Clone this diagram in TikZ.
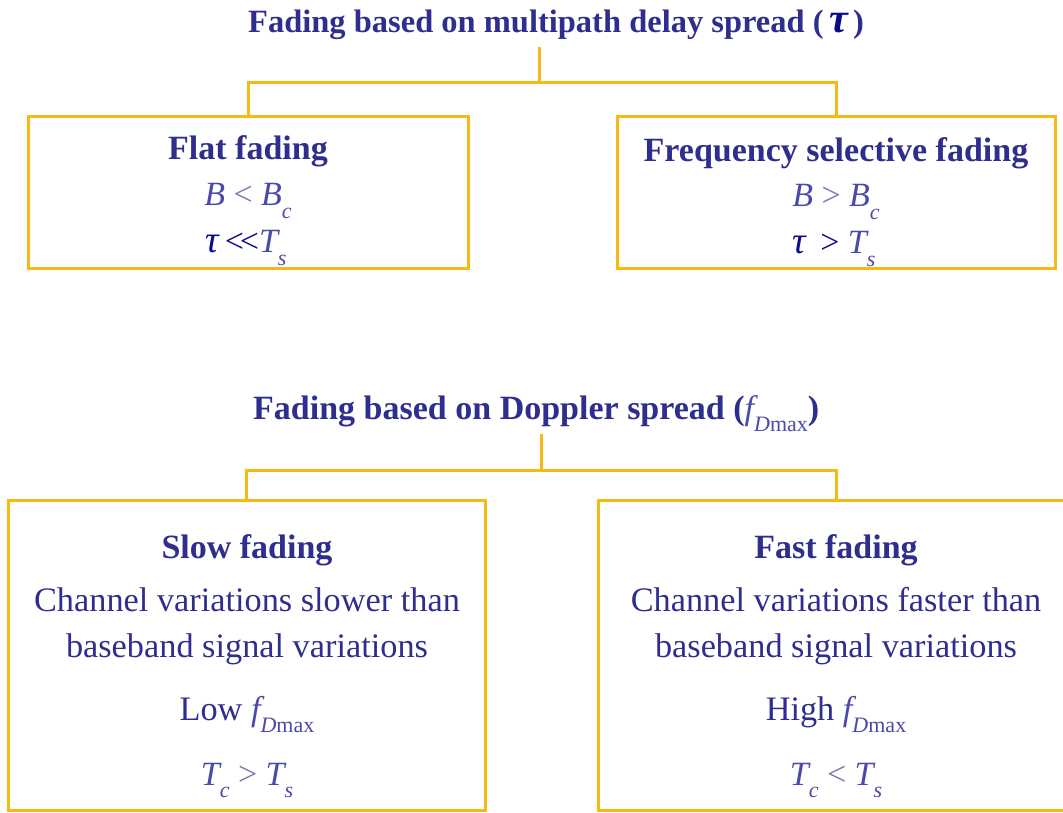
\documentclass[tikz,border=0pt]{standalone}
\usepackage{fontspec}
\setmainfont{Liberation Serif}
\definecolor{navy}{HTML}{2E2E8F}
\definecolor{mathblue}{HTML}{4A4AAA}
\definecolor{relgray}{HTML}{7A7AB0}
\definecolor{taublue}{HTML}{0A0A8C}
\definecolor{gold}{HTML}{F9B915}
\newcommand\mysub[1]{\raisebox{-0.36em}{\fontsize{22}{22}\selectfont #1}}
\newcommand\mytau{{\color{taublue}\itshape τ}}
\newcommand\fdmax{{\itshape f}\mysub{{\itshape D}max}}
\tikzset{
  conn/.style={draw=gold, line width=3pt},
  box/.style={draw=gold, line width=3pt, inner sep=0pt, outer sep=0pt},
  headtxt/.style={font=\fontsize{34}{38}\selectfont\bfseries, text=navy, inner sep=0pt, anchor=base},
  bodytxt/.style={font=\fontsize{34.3}{38}\selectfont, text=navy, inner sep=0pt, anchor=base},
  mathtxt/.style={font=\fontsize{34}{38}\selectfont\itshape, text=mathblue, inner sep=0pt, anchor=base},
}
\begin{document}
\begin{tikzpicture}[x=1pt,y=-1pt]
\useasboundingbox (0,0) rectangle (1063,813);
% ---------- top group ----------
\node[headtxt, anchor=base west, font=\fontsize{32.5}{36}\selectfont\bfseries] (t1) at (248,33) {Fading based on multipath delay spread (\,{\fontsize{42}{42}\selectfont\mytau}\,)};
\node[box, minimum width=440pt, minimum height=151pt] (flat) at (248,192.5) {};
\node[box, minimum width=438pt, minimum height=151pt] (fsel) at (836,192.5) {};
\node[headtxt] (flatT) at (248,160) {Flat fading};
\node[mathtxt] (flatA) at (248,206) {B {\upshape\color{relgray}<} B\mysub{c}};
\node[mathtxt] (flatB) at (246,253) {{\fontsize{38}{38}\selectfont\mytau}\,{\upshape\color{taublue}<\kern-0.12em<}T\mysub{s}};
\node[headtxt] (fselT) at (836,162) {Frequency selective fading};
\node[mathtxt] (fselA) at (836,207) {B {\upshape\color{relgray}>} B\mysub{c}};
\node[mathtxt] (fselB) at (834,254) {{\fontsize{38}{38}\selectfont\mytau}\ \,{\upshape\color{taublue}>} T\mysub{s}};
\coordinate (s1) at (539,47);
\coordinate (j1) at (539,83);
\draw[conn] (s1) -- (j1);
\draw[conn] (flat.north) |- (j1) -| (fsel.north);
% ---------- bottom group ----------
\node[headtxt, anchor=base west] (t2) at (253,419) {Fading based on Doppler spread ({\mdseries\color{mathblue}\fdmax})};
\node[box, minimum width=477pt, minimum height=310pt] (slow) at (246.5,655) {};
\node[box, minimum width=477pt, minimum height=310pt] (fast) at (836.5,655) {};
\node[headtxt] (slowT) at (247,558) {Slow fading};
\node[bodytxt] (slowA) at (247,611) {Channel variations slower than};
\node[bodytxt] (slowB) at (247,657) {baseband signal variations};
\node[bodytxt] (slowC) at (247,720) {Low {\color{mathblue}\fdmax}};
\node[mathtxt] (slowD) at (247,785) {T\mysub{c} {\upshape\color{relgray}>} T\mysub{s}};
\node[headtxt] (fastT) at (836,558) {Fast fading};
\node[bodytxt] (fastA) at (836,611) {Channel variations faster than};
\node[bodytxt] (fastB) at (836,657) {baseband signal variations};
\node[bodytxt] (fastC) at (836,720) {High {\color{mathblue}\fdmax}};
\node[mathtxt] (fastD) at (836,785) {T\mysub{c} {\upshape\color{relgray}<} T\mysub{s}};
\coordinate (s2) at (541,434);
\coordinate (j2) at (541,470);
\draw[conn] (s2) -- (j2);
\draw[conn] (slow.north) |- (j2) -| (fast.north);
\end{tikzpicture}
\end{document}
